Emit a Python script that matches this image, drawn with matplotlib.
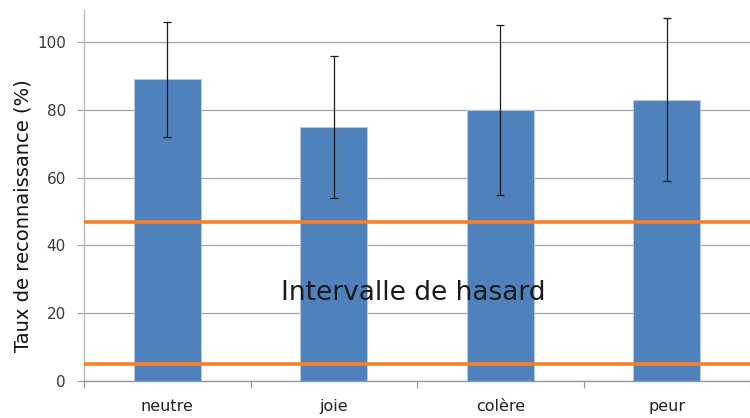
import matplotlib
matplotlib.use("Agg")
import matplotlib.pyplot as plt
import numpy as np

emotions = ['neutre', 'joie', 'colère', 'peur']
taux = [89, 75, 80, 83]
ecart = [17, 21, 25, 24]
hasard_bas, hasard_haut = 5, 47
yticks = [0, 20, 40, 60, 80, 100]

plt.rcParams['font.family'] = ['DejaVu Sans']

fig = plt.figure(figsize=(7.5, 4.18), dpi=100)
ax = fig.add_axes([0.112, 0.0885, 0.888, 0.888])

x = np.arange(len(emotions))
ax.bar(x, taux, width=0.4, color='#4f81bd', edgecolor='#b9cde5', linewidth=0.6, zorder=2)
ax.errorbar(x, taux, yerr=ecart, fmt='none', ecolor='#1a1a1a', elinewidth=0.9,
            capsize=3.2, capthick=0.9, zorder=3)

# bornes de l'intervalle de hasard
for v in (hasard_bas, hasard_haut):
    ax.axhline(v, color='#f7802a', lw=2.6, zorder=4)
ax.text(1.48, 23.9, 'Intervalle de hasard', ha='center', va='baseline', fontsize=19,
        color='#1a1a1a', zorder=5)

ax.set_xlim(-0.5, 3.44)
ax.set_ylim(0, 109.5)
ax.set_yticks(yticks)
ax.yaxis.grid(True, color='#a6a6a6', lw=0.9, zorder=0)
ax.set_axisbelow(True)

ax.set_xticks(x)
ax.set_xticklabels(emotions, fontsize=11.5, color='#222222')
ax.set_xticks(np.arange(len(emotions) + 1) - 0.5, minor=True)
ax.tick_params(axis='x', which='major', length=0, pad=13)
ax.tick_params(axis='x', which='minor', length=5, color='#999999', width=0.9)
ax.tick_params(axis='y', length=5, color='#999999', labelsize=11, labelcolor='#3a3a3a', pad=8)

ax.set_ylabel('Taux de reconnaissance (%)', fontsize=14, color='#111111')
ax.yaxis.set_label_coords(-0.077, 0.445)

for s in ('top', 'right'):
    ax.spines[s].set_visible(False)
ax.spines['left'].set_color('#bbbbbb')
ax.spines['bottom'].set_color('#999999')
ax.spines['left'].set_linewidth(1.0)
ax.spines['bottom'].set_linewidth(1.0)

fig.savefig('out.png', dpi=100)
plt.close(fig)
